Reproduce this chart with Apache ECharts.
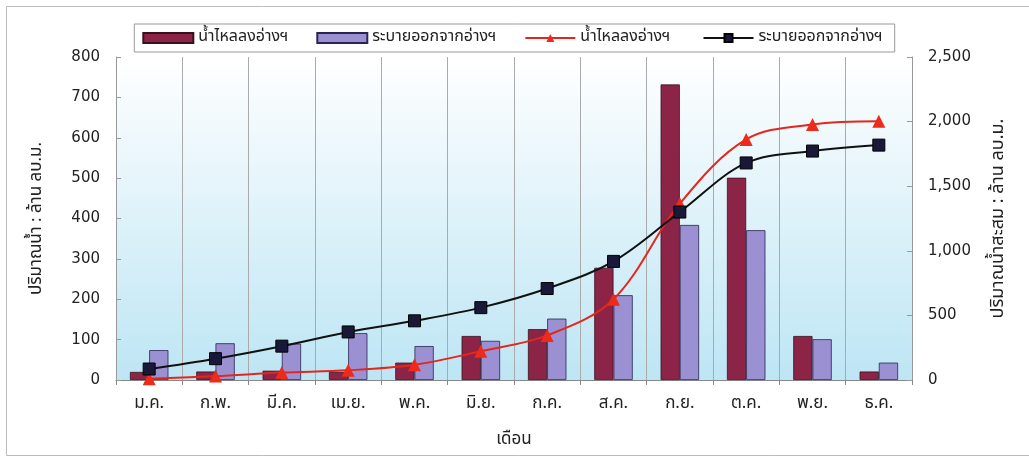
<!DOCTYPE html>
<html>
<head>
<meta charset="utf-8">
<script src="https://cdn.jsdelivr.net/npm/echarts@6/dist/echarts.min.js"></script>
<style>
  html, body { margin: 0; padding: 0; background: #fff; }
  #chart { width: 1029px; height: 461px; }
</style>
</head>
<body>
<div id="chart"></div>
<script>
// เดือน
var months = ['ม.ค.', 'ก.พ.', 'มี.ค.', 'เม.ย.', 'พ.ค.', 'มิ.ย.', 'ก.ค.', 'ส.ค.', 'ก.ย.', 'ต.ค.', 'พ.ย.', 'ธ.ค.'];
// รายเดือน (ล้าน ลบ.ม.)
var inflow  = [20, 21, 23, 20, 43, 109, 126, 278, 732, 501, 109, 21];
var release = [74, 91, 90, 116, 84, 97, 152, 210, 384, 371, 101, 43];
// สะสม (ล้าน ลบ.ม.)
var inflowCum  = [10, 30, 58, 75, 118, 222, 345, 625, 1365, 1862, 1978, 2003];
var releaseCum = [85, 165, 262, 372, 458, 560, 708, 918, 1300, 1680, 1772, 1818];

var thaiFont = '"Noto Sans Thai", "Loma", "Garuda", "Tlwg Typo", "DejaVu Sans", sans-serif';
var numFont = '"DejaVu Sans", Arial, sans-serif';

var myChart = echarts.init(document.getElementById('chart'));
var option = {
    animation: false,
    textStyle: { fontFamily: thaiFont },
    legend: {
        top: 24,
        left: 'center',
        itemWidth: 50,
        itemHeight: 10,
        itemGap: 28,
        padding: [6, 8],
        borderColor: '#999',
        borderWidth: 1,
        textStyle: { fontSize: 16, color: '#222', fontFamily: thaiFont },
        data: [
            { name: 'น้ำไหลลงอ่างฯ', icon: 'rect' },
            { name: 'ระบายออกจากอ่างฯ', icon: 'rect' },
            { name: 'น้ำไหลลงอ่างฯ ' },
            { name: 'ระบายออกจากอ่างฯ ' }
        ]
    },
    grid: { left: 116, right: 117, top: 57, bottom: 81, containLabel: false },
    xAxis: {
        type: 'category',
        data: months,
        name: 'เดือน',
        nameLocation: 'middle',
        nameGap: 52,
        nameTextStyle: { fontSize: 17, color: '#222', fontFamily: thaiFont },
        axisLine: { lineStyle: { color: '#888' } },
        axisTick: { show: true, lineStyle: { color: '#888' } },
        axisLabel: { fontSize: 17, color: '#222', margin: 16, fontFamily: thaiFont },
        splitLine: { show: true, lineStyle: { color: '#aaa', width: 1 } }
    },
    yAxis: [{
        type: 'value',
        min: 0, max: 800, interval: 100,
        name: 'ปริมาณน้ำ : ล้าน ลบ.ม.',
        nameLocation: 'middle',
        nameRotate: 90,
        nameGap: 70,
        nameTextStyle: { fontSize: 17, color: '#222', fontFamily: thaiFont },
        axisLine: { show: true, lineStyle: { color: '#999' } },
        axisTick: { show: true, inside: true, lineStyle: { color: '#999' } },
        axisLabel: { fontSize: 15, color: '#222', margin: 16, fontFamily: numFont },
        splitLine: { show: false },
        splitArea: { show: false }
    }, {
        type: 'value',
        min: 0, max: 2500, interval: 500,
        name: 'ปริมาณน้ำสะสม : ล้าน ลบ.ม.',
        nameLocation: 'middle',
        nameRotate: 90,
        nameGap: 78,
        nameTextStyle: { fontSize: 18, color: '#222', fontFamily: thaiFont },
        axisLine: { show: true, lineStyle: { color: '#999' } },
        axisTick: { show: true, inside: true, lineStyle: { color: '#999' } },
        axisLabel: {
            fontSize: 15, color: '#222', margin: 16, fontFamily: numFont,
            formatter: function (v) { return v.toLocaleString('en-US'); }
        },
        splitLine: { show: false }
    }],
    series: [{
        name: 'น้ำไหลลงอ่างฯ',
        type: 'bar',
        data: inflow,
        barGap: '0%',
        barCategoryGap: '42%',
        itemStyle: { color: '#8c2447', borderColor: '#3a1020', borderWidth: 0.8 }
    }, {
        name: 'ระบายออกจากอ่างฯ',
        type: 'bar',
        data: release,
        itemStyle: { color: '#9b91d2', borderColor: '#2a2450', borderWidth: 0.8 }
    }, {
        name: 'น้ำไหลลงอ่างฯ ',
        type: 'line',
        yAxisIndex: 1,
        data: inflowCum,
        smooth: 0.35,
        symbol: 'triangle',
        symbolSize: 13,
        lineStyle: { color: '#e5261c', width: 2 },
        itemStyle: { color: '#ee2a1a' },
        z: 5
    }, {
        name: 'ระบายออกจากอ่างฯ ',
        type: 'line',
        yAxisIndex: 1,
        data: releaseCum,
        smooth: 0.35,
        symbol: 'rect',
        symbolSize: 12,
        lineStyle: { color: '#111', width: 2 },
        itemStyle: { color: '#1a1838', borderColor: '#000', borderWidth: 1 },
        z: 6
    }]
};
myChart.setOption(option);

// กรอบ + พื้นหลังไล่สีในพื้นที่กราฟ
var rect = myChart.getModel().getComponent('grid').coordinateSystem.getRect();
myChart.setOption({
    graphic: [{
        type: 'rect',
        shape: { x: 6.5, y: 6.5, width: 1040, height: 449 },
        style: { fill: 'none', stroke: '#bbb', lineWidth: 1 },
        z: -10
    }, {
        type: 'rect',
        shape: { x: rect.x, y: rect.y, width: rect.width, height: rect.height },
        style: {
            fill: new echarts.graphic.LinearGradient(0, 0, 0, 1, [
                { offset: 0, color: '#ffffff' },
                { offset: 1, color: '#bde5f4' }
            ])
        },
        z: -5
    }]
});
</script>
</body>
</html>
